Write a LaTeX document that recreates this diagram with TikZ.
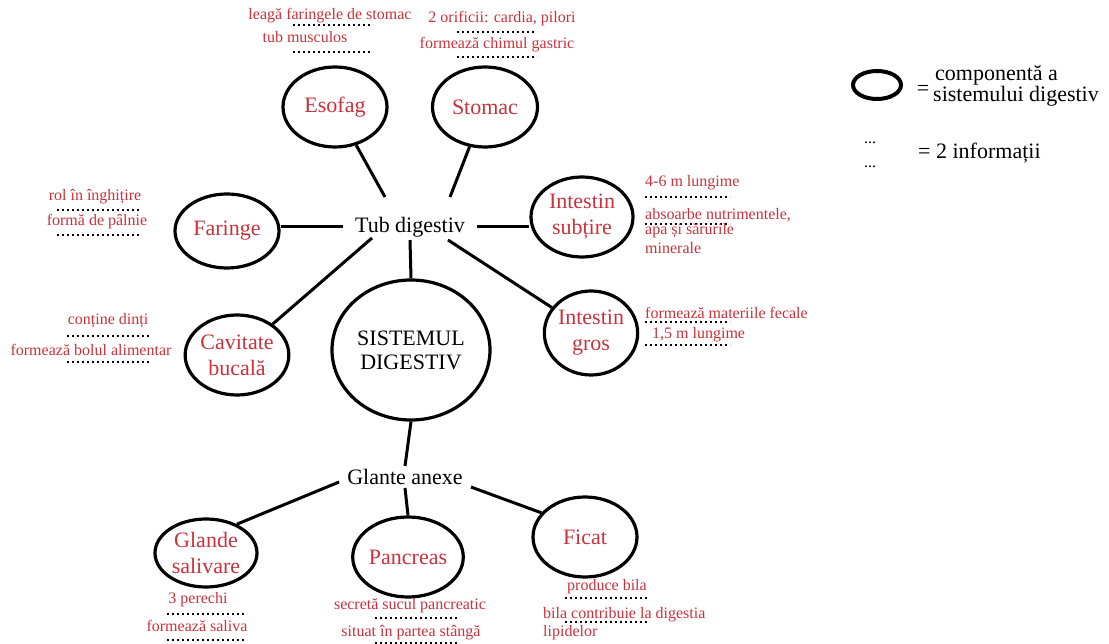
\documentclass[tikz,border=0pt]{standalone}
\usepackage{fontspec}
\setmainfont{Liberation Serif}
\usetikzlibrary{shapes.geometric}
\definecolor{redtxt}{RGB}{200,50,60}
\begin{document}
\begin{tikzpicture}[x=1pt,y=-1pt,
  organ/.style={ellipse, draw, line width=3.2pt, inner sep=0pt, text=redtxt,
    font=\fontsize{22}{26}\selectfont, align=center},
  big/.style={font=\fontsize{22}{24}\selectfont},
  note/.style={text=redtxt, font=\fontsize{16}{17}\selectfont, inner sep=0pt},
  notel/.style={note, anchor=west},
  conn/.style={line width=3pt},
  dots/.style={line width=1.6pt, dash pattern=on 1.6pt off 3.4pt}]
\useasboundingbox (0,0) rectangle (1109,644);

% central and hubs
\node[ellipse, draw, line width=3.2pt, minimum width=158, minimum height=140,
  inner sep=0pt, align=center, big] (sistem) at (411,350) {SISTEMUL\\DIGESTIV};
\node[big, inner xsep=12pt, inner ysep=3pt] (tub) at (410,227) {Tub digestiv};
\node[big, inner xsep=8pt, inner ysep=3pt] (glante) at (405,477) {Glante anexe};

% organs
\node[organ, minimum width=104, minimum height=80] (esofag) at (335,107) {Esofag};
\node[organ, minimum width=105, minimum height=80] (stomac) at (485,107) {Stomac};
\node[organ, minimum width=104, minimum height=74] (faringe) at (227,231) {Faringe};
\node[organ, minimum width=100, minimum height=80] (cavitate) at (237,355) {Cavitate\\bucală};
\node[organ, minimum width=102, minimum height=80] (intsub) at (582,217) {Intestin\\subțire};
\node[organ, minimum width=90, minimum height=84] (intgros) at (591,333) {Intestin\\gros};
\node[organ, minimum width=102, minimum height=68] (glande) at (206,553) {Glande\\salivare};
\node[organ, minimum width=102, minimum height=80] (pancreas) at (408,557) {Pancreas};
\node[organ, minimum width=104, minimum height=80] (ficat) at (585,537) {Ficat};

% connectors
\draw[conn] ([xshift=-25pt,yshift=30pt]tub.center) -- (esofag);
\draw[conn] ([xshift=40pt,yshift=30pt]tub.center) -- (stomac);
\draw[conn] (tub.west) -- (tub.west -| faringe.east);
\draw[conn] (tub.east) -- (tub.east -| intsub.west);
\draw[conn] ([xshift=-38pt,yshift=-11pt]tub.center) -- (cavitate);
\draw[conn] ([xshift=38pt,yshift=-13pt]tub.center) -- (intgros);
\draw[conn] (tub.south) -- (sistem.north);
\draw[conn] (sistem.south) -- (glante.north);
\draw[conn] ([yshift=-5pt]glante.west) -- (glande.43);
\draw[conn] (glante.south) -- (pancreas.north);
\draw[conn] ([yshift=-10pt]glante.east) -- (ficat.151);

% Esofag notes
\node[note] (e1) at (330,16) {leagă faringele de stomac};
\draw[dots] (293,25) -- (373,25);
\node[note] (e2) at (305,37) {tub musculos};
\draw[dots] (293,52) -- (373,52);
% Stomac notes
\node[note] (s1) at (502,19) {2 orificii: cardia, pilori};
\draw[dots] (457,32) -- (537,32);
\node[note] (s2) at (497,45) {formează chimul gastric};
\draw[dots] (457,57) -- (537,57);
% Faringe notes
\node[note] (f1) at (95,197) {rol în înghițire};
\draw[dots] (57,210) -- (140,210);
\node[note] (f2) at (97,222) {formă de pâlnie};
\draw[dots] (57,235) -- (140,235);
% Cavitate notes
\node[note] (c1) at (108,321) {conține dinți};
\draw[dots] (67,336) -- (150,336);
\node[note] (c2) at (91,350) {formează bolul alimentar};
\draw[dots] (67,362) -- (150,362);
% Intestin subtire notes
\node[notel] (i1) at (645,183) {4-6 m lungime};
\draw[dots] (645,197) -- (730,197);
\node[notel] (i2) at (645,215) {absoarbe nutrimentele,};
\draw[dots] (645,224) -- (730,224);
\node[notel] (i3) at (645,231) {apa și sărurile};
\node[notel] (i4) at (645,248) {minerale};
% Intestin gros notes
\node[notel] (g1) at (645,313) {formează materiile fecale};
\draw[dots] (645,322) -- (730,322);
\node[notel] (g2) at (652,335) {1,5 m lungime};
\draw[dots] (645,345) -- (730,345);
% Glande notes
\node[note] (gs1) at (198,600) {3 perechi};
\draw[dots] (167,614) -- (247,614);
\node[note] (gs2) at (197,626) {formează saliva};
\draw[dots] (167,640) -- (247,640);
% Pancreas notes
\node[note] (p1) at (410,606) {secretă sucul pancreatic};
\draw[dots] (375,618) -- (457,618);
\node[note] (p2) at (411,633) {situat în partea stângă};
\draw[dots] (375,643) -- (457,643);
% Ficat notes
\node[note] (fi1) at (607,587) {produce bila};
\draw[dots] (565,598) -- (648,598);
\node[notel] (fi2) at (543,615) {bila contribuie la digestia};
\draw[dots] (565,622) -- (648,622);
\node[notel] (fi3) at (543,633) {lipidelor};

% legend
\node[ellipse, draw, line width=4pt, minimum width=48, minimum height=28, inner sep=0pt] (leg) at (877,85) {};
\node[big, inner sep=0pt] (legeq) at (923,90) {=};
\node[big, anchor=west, inner sep=0pt] (leg1) at (935,75) {componentă a};
\node[big, anchor=west, inner sep=0pt] (leg2) at (933,96) {sistemului digestiv};
\node[font=\fontsize{16}{16}\selectfont, inner sep=0pt] (ld1) at (870,143) {...};
\node[font=\fontsize{16}{16}\selectfont, inner sep=0pt] (ld2) at (870,167) {...};
\node[big, anchor=west, inner sep=0pt] (leg3) at (918,153) {= 2 informații};
\end{tikzpicture}
\end{document}
